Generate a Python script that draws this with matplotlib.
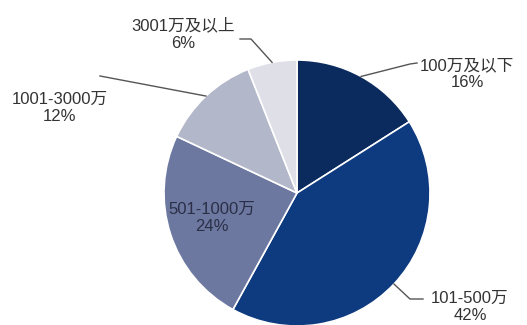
import matplotlib.pyplot as plt
import numpy as np

plt.rcParams['font.family'] = ['Liberation Sans', 'Noto Sans CJK SC', 'DejaVu Sans']

categories = ['100万及以下', '101-500万', '501-1000万', '1001-3000万', '3001万及以上']
shares = [16, 42, 24, 12, 6]
colors = ['#0b2a5e', '#0e3a80', '#6c78a0', '#b3b7ca', '#dedfe7']

W, H = 527, 325
cx, cy, r = 297, H - 193, 133

fig = plt.figure(figsize=(W / 100, H / 100), dpi=100)
ax = fig.add_axes([0, 0, 1, 1])

wedges, _ = ax.pie(shares, colors=colors, startangle=90, counterclock=False,
                   center=(cx, cy), radius=r, frame=True,
                   wedgeprops=dict(edgecolor='white', linewidth=1.2))
ax.set_xlim(0, W)
ax.set_ylim(0, H)
ax.set_aspect('equal')
ax.axis('off')

# label centre and leader-line elbows, pixel coords measured from the top
label_pos = [(467, 74), (470, 307), (212, 218), (60, 108), (183, 34)]
elbows = [[(410, 64), (417, 63)],
          [(410, 299), (423, 299)],
          None,
          [(100, 76)],
          [(251, 39), (240, 39)]]

for w, cat, val, (tx, ty), elb in zip(wedges, categories, shares, label_pos, elbows):
    mid = np.deg2rad((w.theta1 + w.theta2) / 2)
    ex, ey = cx + r * np.cos(mid), cy + r * np.sin(mid)
    tc = '#2b3048' if elb is None else '#333333'
    ax.text(tx, H - ty, f'{cat}\n{val}%', ha='center', va='center',
            fontsize=12, color=tc, linespacing=1.2)
    if elb is not None:
        xs = [ex] + [p[0] for p in elb]
        ys = [ey] + [H - p[1] for p in elb]
        ax.plot(xs, ys, color='#555555', lw=1)

fig.savefig('out.png', dpi=100)
